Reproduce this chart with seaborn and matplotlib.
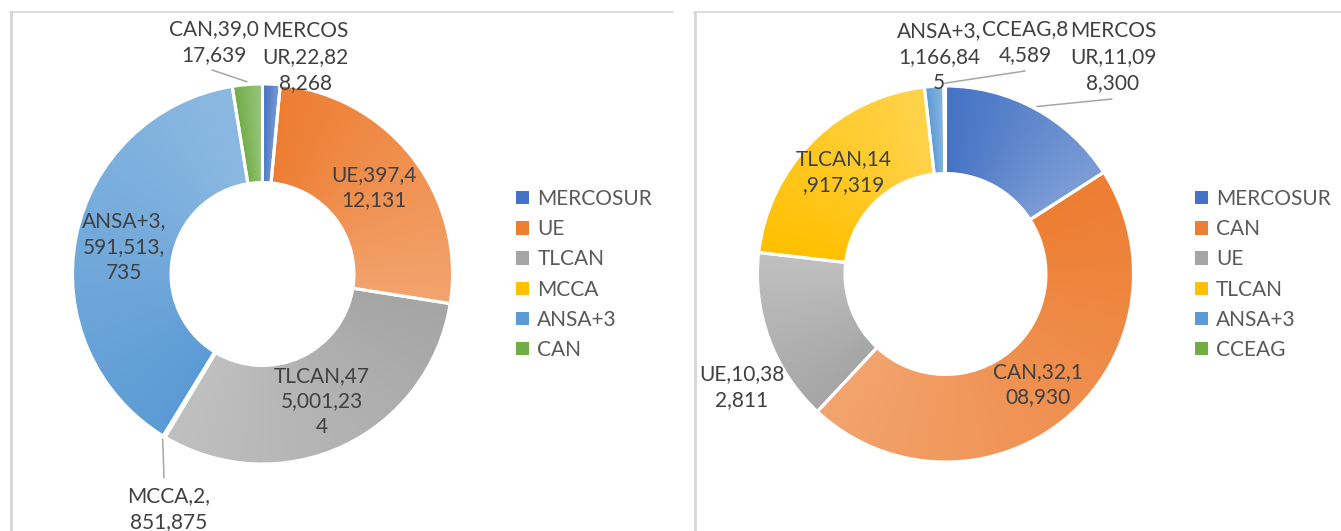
import numpy as np
import matplotlib
matplotlib.use("Agg")
import matplotlib.pyplot as plt
from matplotlib.colors import to_rgb
from matplotlib.lines import Line2D
from matplotlib.patches import Patch
import seaborn as sns

# Datos: gráfico izquierdo
izq_bloques = ['MERCOSUR', 'UE', 'TLCAN', 'MCCA', 'ANSA+3', 'CAN']
izq_valores = [22828268, 397412131, 475001234, 2851875, 591513735, 39017639]
izq_etiquetas = ['MERCOS\nUR,22,82\n8,268', 'UE,397,4\n12,131', 'TLCAN,47\n5,001,23\n4',
                 'MCCA,2,\n851,875', 'ANSA+3,\n591,513,\n735', 'CAN,39,0\n17,639']

# Datos: gráfico derecho
der_bloques = ['MERCOSUR', 'CAN', 'UE', 'TLCAN', 'ANSA+3', 'CCEAG']
der_valores = [11098300, 32108930, 10382811, 14917319, 1166845, 84589]
der_etiquetas = ['MERCOS\nUR,11,09\n8,300', 'CAN,32,1\n08,930', 'UE,10,38\n2,811',
                 'TLCAN,14\n,917,319', 'ANSA+3,\n1,166,84\n5', 'CCEAG,8\n4,589']

# Paleta tipo Office
office = sns.color_palette(['#4472C4', '#ED7D31', '#A5A5A5', '#FFC000', '#5B9BD5', '#70AD47'])

sns.set_theme(style='white')
plt.rcParams['font.family'] = ['Lato', 'DejaVu Sans']

W, H = 1341, 531
fig = plt.figure(figsize=(W / 100, H / 100), dpi=100)

TXT = '#404040'
FS = 15


def ejes_pie(cx, cy, R):
    ax = fig.add_axes([(cx - R) / W, (H - cy - R) / H, 2 * R / W, 2 * R / H])
    return ax


def a_datos(p, cx, cy, R):
    return ((p[0] - cx) / R, (cy - p[1]) / R)


def dona(valores, etiquetas, cx, cy, R, hueco, fuera, guias):
    ax = ejes_pie(cx, cy, R)
    ancho = 1 - hueco / R
    wedges, _ = ax.pie(valores, colors=office, startangle=90, counterclock=False,
                       radius=1, wedgeprops=dict(width=ancho, linewidth=0))
    # degradado angular dentro de cada sector
    n = 500
    xs = np.linspace(-1, 1, n)
    X, Y = np.meshgrid(xs, xs)
    theta = np.degrees(np.arctan2(Y, X))
    for w, c in zip(wedges, office):
        t1, t2 = w.theta1, w.theta2
        t = np.clip(((t2 - theta) % 360) / (t2 - t1), 0, 1)[..., None]
        img = np.array(to_rgb(c)) * (1 - 0.3 * t) + 0.3 * t
        im = ax.imshow(img, extent=(-1, 1, -1, 1), origin='lower', zorder=2)
        im.set_clip_path(w)
    # bordes blancos encima
    ax.pie(valores, startangle=90, counterclock=False, radius=1,
           wedgeprops=dict(width=ancho, facecolor='none', edgecolor='white',
                           linewidth=2.2, zorder=3))
    rm = (1 + hueco / R) / 2
    for i, (w, txt) in enumerate(zip(wedges, etiquetas)):
        ang = np.radians((w.theta1 + w.theta2) / 2)
        if i in fuera:
            x, y = a_datos(fuera[i], cx, cy, R)
        else:
            x, y = rm * np.cos(ang), rm * np.sin(ang)
        ax.text(x, y, txt, ha='center', va='center', multialignment='center',
                fontsize=FS, color=TXT, linespacing=1.36, zorder=5, clip_on=False)
        if i in guias:
            x0, y0 = a_datos(guias[i], cx, cy, R)
            ax.plot([x0, 1.015 * np.cos(ang)], [y0, 1.015 * np.sin(ang)],
                    color='#A6A6A6', lw=1.1, zorder=4, clip_on=False)
    ax.set_xlim(-1, 1)
    ax.set_ylim(-1, 1)
    ax.set_aspect('equal')
    ax.axis('off')
    return ax


dona(izq_valores, izq_etiquetas, 262.5, 274, 190, 91.5,
     fuera={0: (305, 57), 3: (169, 509), 5: (214, 42)},
     guias={3: (164, 478), 5: (212, 70)})
dona(der_valores, der_etiquetas, 945.5, 274, 188, 100.5,
     fuera={2: (742, 387), 4: (939, 57), 5: (1025, 42), 0: (1113, 57)},
     guias={5: (1025, 71), 0: (1112, 99)})

# leyendas
for bloques, x0 in [(izq_bloques, 516), (der_bloques, 1195)]:
    handles = [Patch(facecolor=c, edgecolor='none') for c in office]
    fig.legend(handles, bloques, loc='center left', bbox_to_anchor=(x0 / W, 1 - 274.5 / H),
               frameon=False, fontsize=FS, labelcolor='#595959', handlelength=0.62,
               handleheight=0.62, handletextpad=0.4, labelspacing=0.49, borderpad=0,
               borderaxespad=0)

# marcos de los gráficos
gris = '#D6D6D6'
fig.add_artist(Line2D([10.5 / W, 10.5 / W], [1 - 12 / H, 0], color=gris, lw=2))
fig.add_artist(Line2D([10 / W, 673 / W], [1 - 12 / H, 1 - 12 / H], color=gris, lw=1.2))
fig.add_artist(Line2D([695 / W, 695 / W], [1 - 12 / H, 0], color=gris, lw=2))
fig.add_artist(Line2D([694 / W, 1], [1 - 12 / H, 1 - 12 / H], color=gris, lw=1.2))

fig.savefig('out.png', dpi=100, facecolor='white')
